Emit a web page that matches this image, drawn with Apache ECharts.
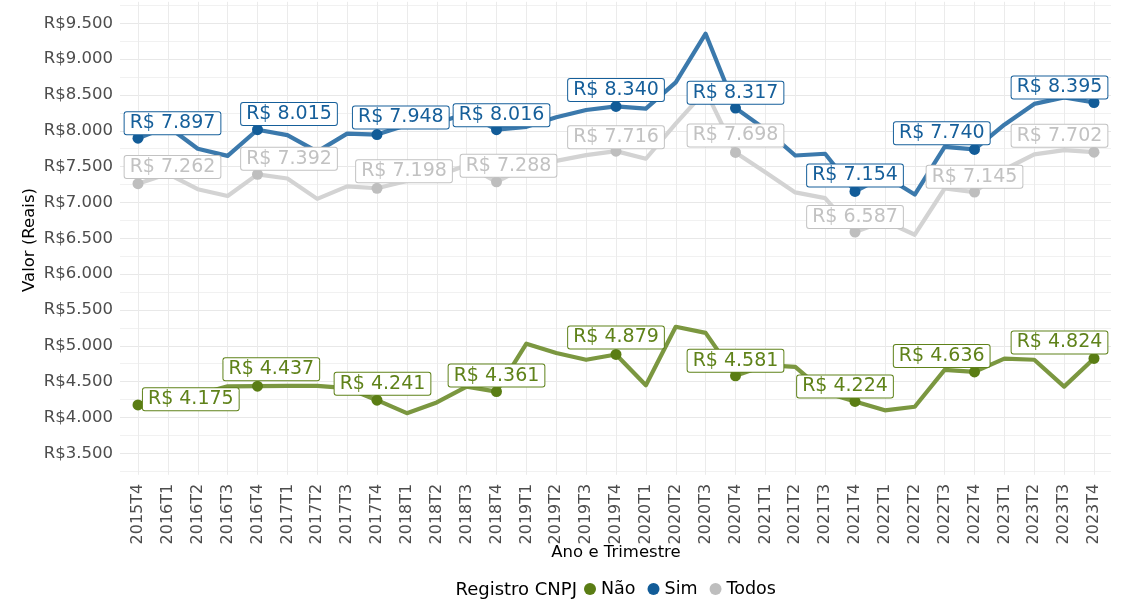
<!DOCTYPE html>
<html>
<head>
<meta charset="utf-8">
<script src="https://cdn.jsdelivr.net/npm/echarts@6/dist/echarts.min.js"></script>
<style>html,body{margin:0;padding:0;background:#fff}#c{width:1127px;height:599px}</style>
</head>
<body>
<div id="c"></div>
<script>
// ---------- data ----------
const categories = ['2015T4','2016T1','2016T2','2016T3','2016T4','2017T1','2017T2','2017T3','2017T4',
  '2018T1','2018T2','2018T3','2018T4','2019T1','2019T2','2019T3','2019T4','2020T1','2020T2','2020T3','2020T4',
  '2021T1','2021T2','2021T3','2021T4','2022T1','2022T2','2022T3','2022T4','2023T1','2023T2','2023T3','2023T4'];
const naoValues = [4175,4250,4320,4435,4437,4440,4440,4410,4241,4060,4210,4430,4361,5030,4900,4805,4879,
  4450,5265,5180,4581,4730,4705,4350,4224,4100,4150,4665,4636,4820,4805,4430,4824];
const simValues = [7897,8060,7750,7650,8015,7940,7710,7960,7948,8080,8110,8240,8016,8055,8190,8290,8340,
  8310,8675,9355,8317,8020,7655,7680,7154,7370,7110,7775,7740,8085,8375,8465,8395];
const todosValues = [7262,7400,7185,7090,7392,7335,7050,7225,7198,7300,7370,7520,7288,7500,7580,7660,7716,
  7610,8100,8560,7698,7420,7140,7060,6587,6740,6550,7195,7145,7460,7670,7730,7702];
const yTicks = [3500,4000,4500,5000,5500,6000,6500,7000,7500,8000,8500,9000,9500];
const seriesNames = ['Não','Sim','Todos'];

// ---------- style (label placement, colours) ----------
const labelOffsets = {
  'Não':   [[52.8,-5.7],[13.8,-16.8],[5.5,-16.5],[0,-16],[0,-17],[0,-15],[-10,-15],[-32.8,-16],[-34.5,-16]],
  'Sim':   [[34.5,-15],[31.5,-15.7],[23.8,-17],[5,-14.5],[0,-16.5],[0,-15.3],[0,-16],[-32.7,-16.2],[-34.5,-15]],
  'Todos': [[34.5,-16.7],[31.5,-15.7],[27,-17],[12,-16],[0,-14],[0,-17],[0,-15],[0,-15.4],[-34.5,-16.3]]
};
const dotColors = {'Não':'#5a7d14','Sim':'#125c98','Todos':'#bebebe'};
const lineColors = {'Não':'#7b9740','Sim':'#3b79ac','Todos':'#d3d3d3'};
const labelColors = {'Não':'#5f821a','Sim':'#165f9a','Todos':'#c2c2c2'};
const FONT = 'DejaVu Sans';

function fmt(v){ return String(v).replace(/\B(?=(\d{3})+(?!\d))/g,'.'); }

const valuesByName = {'Não':naoValues,'Sim':simValues,'Todos':todosValues};

const lineSeries = seriesNames.map(n => ({
  type:'line', name:n+' linha', xAxisIndex:1, yAxisIndex:1, z:2,
  data: valuesByName[n], showSymbol:false, symbol:'none', silent:true,
  lineStyle:{color:lineColors[n], width:4.2, join:'round', cap:'round'}
}));

const pointSeries = seriesNames.map(n => {
  const vals = valuesByName[n];
  const data = [];
  let k = 0;
  for (let i = 0; i < categories.length; i++) {
    if (categories[i].endsWith('T4')) {
      data.push({value:[categories[i], vals[i]], label:{offset: labelOffsets[n][k]}});
      k++;
    }
  }
  return {
    type:'scatter', name:n, xAxisIndex:1, yAxisIndex:1, z:3,
    symbol:'circle', symbolSize:11, itemStyle:{color:dotColors[n], opacity:1},
    data,
    label:{show:true, position:'inside', formatter:p => 'R$ ' + fmt(p.value[1]),
      color:labelColors[n], fontFamily:FONT, fontSize:19, lineHeight:18,
      backgroundColor:'#ffffff', borderColor:labelColors[n], borderWidth:1, borderRadius:2,
      padding:[2,5,2,5]}
  };
});

const option = {
  animation:false,
  backgroundColor:'#ffffff',
  grid:[
    {left:120, right:16, top:5.4, bottom:127.8, outerBoundsMode:'none', containLabel:false},
    {left:138, right:33, top:1.8, bottom:124.2, outerBoundsMode:'none', containLabel:false}
  ],
  xAxis:[
    {type:'value', gridIndex:0, show:false, min:0, max:1},
    {type:'category', gridIndex:1, data:categories, boundaryGap:false,
      axisLine:{show:false}, axisTick:{show:false},
      axisLabel:{rotate:90, interval:0, margin:9, color:'#4d4d4d', fontFamily:FONT, fontSize:16},
      splitLine:{show:true, lineStyle:{color:'#ebebeb', width:1}}}
  ],
  yAxis:[
    {type:'value', gridIndex:0, min:3250, max:9750, interval:250,
      axisLine:{show:false}, axisTick:{show:false},
      axisLabel:{margin:7, color:'#4d4d4d', fontFamily:FONT, fontSize:16.5,
        formatter:v => yTicks.includes(v) ? 'R$' + fmt(v) : ''},
      splitLine:{show:true, lineStyle:{color:['#f1f1f1','#e8e8e8'], width:1}}},
    {type:'value', gridIndex:1, min:3200, max:9800, show:false, splitLine:{show:false}}
  ],
  legend:{
    data: seriesNames.map(n => ({name:n, icon:'circle', itemStyle:{color:dotColors[n]}})),
    left:584, top:580, itemWidth:12, itemHeight:12, itemGap:12, padding:0,
    textStyle:{color:'#000', fontFamily:FONT, fontSize:17.5}, selectedMode:false
  },
  graphic:[
    {type:'text', x:29.5, y:240, rotation:Math.PI/2,
      style:{text:'Valor (Reais)', fill:'#000', font:'16.5px "DejaVu Sans"', textAlign:'center', textVerticalAlign:'middle'}},
    {type:'text', x:616, y:553,
      style:{text:'Ano e Trimestre', fill:'#000', font:'16.5px "DejaVu Sans"', textAlign:'center', textVerticalAlign:'middle'}},
    {type:'text', x:577, y:590,
      style:{text:'Registro CNPJ', fill:'#000', font:'18px "DejaVu Sans"', textAlign:'right', textVerticalAlign:'middle'}}
  ],
  series: lineSeries.concat(pointSeries)
};

const chart = echarts.init(document.getElementById('c'), null, {renderer:'canvas'});
chart.setOption(option);
</script>
</body>
</html>
